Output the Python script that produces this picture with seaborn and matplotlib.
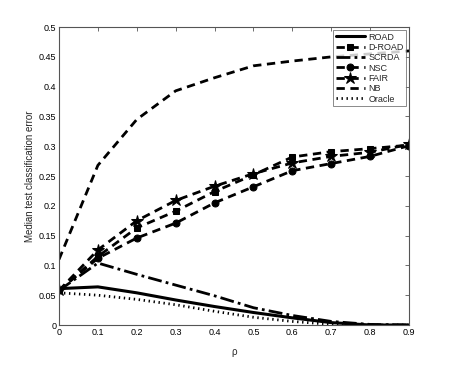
import matplotlib
matplotlib.use('Agg')
import numpy as np
import pandas as pd
import matplotlib.pyplot as plt
import seaborn as sns

# valores
rho = [0.0, 0.1, 0.2, 0.3, 0.4, 0.5, 0.6, 0.7, 0.8, 0.9]
road = [0.061, 0.064, 0.054, 0.042, 0.031, 0.021, 0.012, 0.004, 0.0, 0.0]
droad = [0.058, 0.115, 0.163, 0.191, 0.224, 0.252, 0.282, 0.291, 0.296, 0.302]
scrda = [0.058, 0.104, 0.085, 0.067, 0.049, 0.029, 0.016, 0.006, 0.001, 0.0]
nsc = [0.058, 0.112, 0.146, 0.171, 0.205, 0.232, 0.259, 0.271, 0.283, 0.301]
fair = [0.058, 0.126, 0.175, 0.209, 0.233, 0.254, 0.272, 0.283, 0.290, 0.303]
nb = [0.11, 0.268, 0.345, 0.393, 0.415, 0.435, 0.443, 0.45, 0.455, 0.46]
oracle = [0.054, 0.050, 0.043, 0.034, 0.023, 0.013, 0.006, 0.001, 0.0, 0.0]

metodos = ['ROAD', 'D-ROAD', 'SCRDA', 'NSC', 'FAIR', 'NB', 'Oracle']
series = [road, droad, scrda, nsc, fair, nb, oracle]

df = pd.DataFrame({
    'rho': rho * len(metodos),
    'error': sum(series, []),
    'metodo': np.repeat(metodos, len(rho)),
})

estilos = {
    'ROAD': dict(linestyle='-', marker=None, linewidth=2.2),
    'D-ROAD': dict(linestyle=(0, (3, 2)), marker='s', linewidth=2.0, markersize=5),
    'SCRDA': dict(linestyle=(0, (5, 1.5, 1, 1.5)), marker=None, linewidth=2.0),
    'NSC': dict(linestyle=(0, (3, 2)), marker='o', linewidth=2.0, markersize=5),
    'FAIR': dict(linestyle=(0, (3, 2)), marker='*', linewidth=2.0, markersize=9),
    'NB': dict(linestyle=(0, (3, 2)), marker=None, linewidth=2.0),
    'Oracle': dict(linestyle=(0, (0.5, 1.3)), marker=None, linewidth=2.0),
}

sns.set_style('white')
plt.rcParams['font.family'] = ['Liberation Sans', 'DejaVu Sans']

fig = plt.figure(figsize=(4.52, 3.66), dpi=100)
ax = fig.add_axes([0.1305, 0.112, 0.7745, 0.814])

for m in metodos:
    sns.lineplot(data=df[df['metodo'] == m], x='rho', y='error', ax=ax,
                 color='black', label=m, markeredgecolor='black', **estilos[m])

ax.set_xlim(0, 0.9)
ax.set_ylim(0, 0.5)
ax.set_xticks(np.arange(0, 0.91, 0.1))
ax.set_xticklabels(['0', '0.1', '0.2', '0.3', '0.4', '0.5', '0.6', '0.7', '0.8', '0.9'])
ax.set_yticks(np.arange(0, 0.51, 0.05))
ax.set_yticklabels(['0', '0.05', '0.1', '0.15', '0.2', '0.25', '0.3', '0.35', '0.4', '0.45', '0.5'])
ax.tick_params(direction='in', length=3, width=0.6, labelsize=6.5, pad=2, top=True, right=True, colors='#555555', labelcolor='black')
for s in ax.spines.values():
    s.set_color('#555555')
    s.set_linewidth(0.8)
ax.set_xlabel('ρ', fontsize=7, labelpad=7)
ax.set_ylabel('Median test classification error', fontsize=7, labelpad=3)

leg = ax.legend(loc='upper right', fontsize=6.5, frameon=True, fancybox=False,
                edgecolor='#555555', handlelength=3.2, labelspacing=0.15,
                borderpad=0.3, handletextpad=0.4, borderaxespad=0.3)
leg.get_frame().set_linewidth(0.6)

fig.savefig('out.png', dpi=100)
